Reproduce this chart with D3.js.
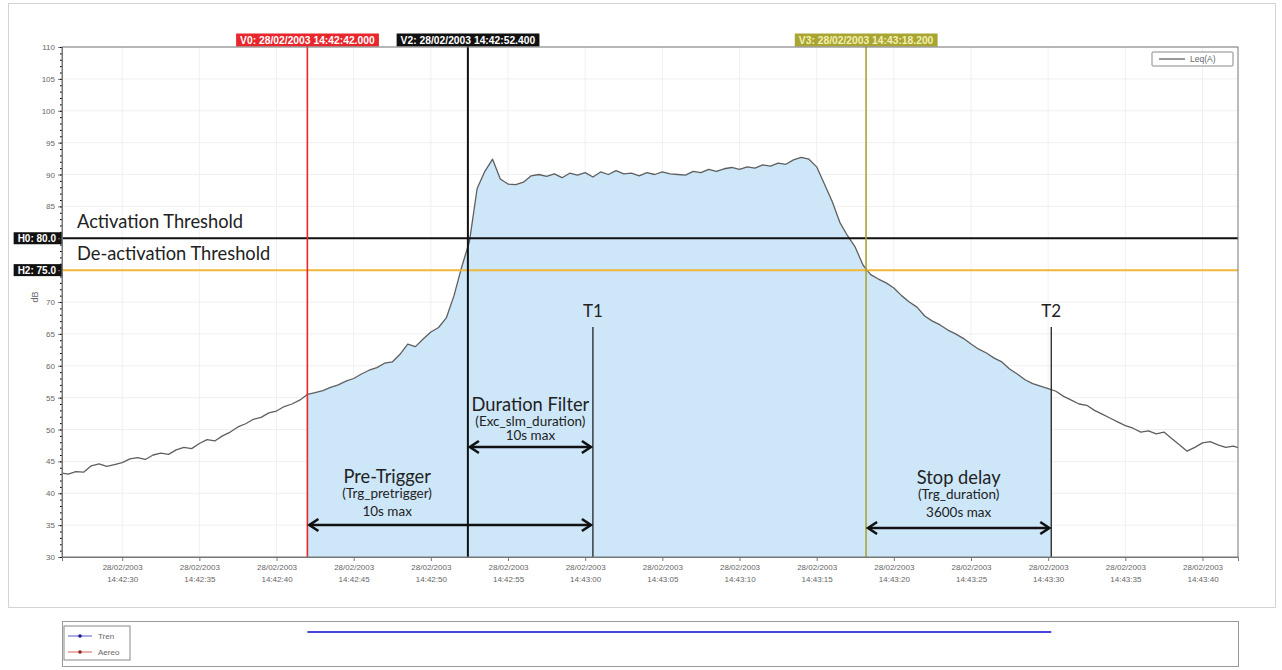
<!DOCTYPE html>
<html>
<head>
<meta charset="utf-8">
<script src="https://cdn.jsdelivr.net/npm/d3@7"></script>
<style>
  body { margin: 0; background: #fff; }
  text { font-family: "Liberation Sans", Arial, sans-serif; }
  .note { font-family: Lato, "Open Sans", sans-serif; fill: #222; }
</style>
</head>
<body>
<div id="main"></div>
<script>
// Leq(A) samples, every 0.5 s from leqStart
const leqStart = "28/02/2003 14:42:26.000";
const leqStepMs = 500;
const leqValues = [
  43.2, 43.0, 43.4, 43.3, 44.3, 44.6, 44.2, 44.5,
  44.8, 45.4, 45.6, 45.3, 46.0, 46.3, 46.1, 46.8,
  47.2, 47.0, 47.8, 48.4, 48.2, 49.0, 49.6, 50.4,
  50.9, 51.6, 51.9, 52.6, 52.9, 53.6, 54.0, 54.6,
  55.5, 55.8, 56.1, 56.6, 57.0, 57.6, 58.0, 58.7,
  59.3, 59.7, 60.4, 60.6, 61.8, 63.4, 63.0, 64.2,
  65.3, 66.0, 67.5, 71.0, 75.5, 79.5, 87.8, 90.5,
  92.4, 89.3, 88.5, 88.4, 88.8, 89.8, 90.0, 89.7,
  90.1, 89.5, 90.2, 89.9, 90.3, 89.6, 90.4, 90.0,
  90.6, 90.1, 90.2, 89.8, 90.3, 90.0, 90.4, 90.1,
  90.0, 89.9, 90.5, 90.3, 90.8, 90.5, 90.9, 91.1,
  90.8, 91.2, 91.0, 91.5, 91.3, 91.8, 91.6, 92.3,
  92.7, 92.4, 91.2, 88.5, 85.8, 82.5, 80.4, 78.6,
  75.8, 74.3, 73.6, 73.0, 72.2, 71.0, 70.0, 69.2,
  67.8, 67.0, 66.4, 65.6, 65.0, 64.3, 63.4, 62.6,
  62.0, 61.2, 60.6, 59.5, 58.7, 57.8, 57.2, 56.8,
  56.4, 56.0, 55.2, 54.6, 54.0, 53.8, 53.0, 52.4,
  51.8, 51.2, 50.6, 50.2, 49.6, 49.8, 49.3, 49.6,
  48.6, 47.6, 46.6, 47.2, 47.9, 48.1, 47.6, 47.2,
  47.4, 47.0
];

const xDomain = ["28/02/2003 14:42:26.100", "28/02/2003 14:43:42.300"];
const xTickTimes = [
  "28/02/2003 14:42:30.000", "28/02/2003 14:42:35.000", "28/02/2003 14:42:40.000",
  "28/02/2003 14:42:45.000", "28/02/2003 14:42:50.000", "28/02/2003 14:42:55.000",
  "28/02/2003 14:43:00.000", "28/02/2003 14:43:05.000", "28/02/2003 14:43:10.000",
  "28/02/2003 14:43:15.000", "28/02/2003 14:43:20.000", "28/02/2003 14:43:25.000",
  "28/02/2003 14:43:30.000", "28/02/2003 14:43:35.000", "28/02/2003 14:43:40.000"
];
const yTicks = [30, 35, 40, 45, 50, 55, 60, 65, 70, 75, 80, 85, 90, 95, 100, 105, 110];

// cursors
const markerNames = ["V0", "V2", "V3"];
const markerTimes = ["28/02/2003 14:42:42.000", "28/02/2003 14:42:52.400", "28/02/2003 14:43:18.200"];

const thresholdNames = ["H0", "H2"];
const thresholdValues = [80, 75];
const thresholdTexts = ["Activation Threshold", "De-activation Threshold"];

const triggerNames = ["T1", "T2"];
const triggerTimes = ["28/02/2003 14:43:00.500", "28/02/2003 14:43:30.200"];

// annotated spans
const spanTitles = ["Duration Filter", "Pre-Trigger", "Stop delay"];
const spanParams = ["(Exc_slm_duration)", "(Trg_pretrigger)", "(Trg_duration)"];
const spanLimits = ["10s max", "10s max", "3600s max"];
const spanFrom = ["V2", "V0", "V3"];
const spanTo = ["T1", "T1", "T2"];

const bottomSeries = ["Tren", "Aereo"];

// layout / style
const ctx = {
    margin: {top: 47, right: 44, bottom: 113, left: 62},
    width: 1282,
    height: 670
};
ctx.w = ctx.width - ctx.margin.left - ctx.margin.right;
ctx.h = ctx.height - ctx.margin.top - ctx.margin.bottom;
const markerColors = ["#e8262b", "#111111", "#a9a533"];
const markerTextColors = ["#fff", "#fff", "#f2f0b0"];
const thresholdColors = ["#111111", "#f2b73a"];
const spanArrowY = [447, 525, 528];
const spanTextShift = [0, -63, 0];
const spanTitleDy = [-36, -42, -44];

const parseT = d3.timeParse("%d/%m/%Y %H:%M:%S.%L");
const t0 = parseT(leqStart);
const leq = leqValues.map((v, i) => ({t: new Date(t0.getTime() + i * leqStepMs), v: v}));
const markerT = markerTimes.map(parseT);
const triggerT = triggerTimes.map(parseT);
const timeOf = name => {
    const i = markerNames.indexOf(name);
    return i >= 0 ? markerT[i] : triggerT[triggerNames.indexOf(name)];
};

const svg = d3.select("#main").append("svg")
    .attr("width", ctx.width)
    .attr("height", ctx.height);

// outer frames
svg.append("rect").attr("x", 8.5).attr("y", 3.5).attr("width", 1267).attr("height", 604)
    .attr("fill", "none").attr("stroke", "#d4d4d4");
svg.append("rect").attr("x", 62.5).attr("y", 621.5).attr("width", 1176).attr("height", 45)
    .attr("fill", "none").attr("stroke", "#9a9a9a");

const g = svg.append("g")
    .attr("transform", `translate(${ctx.margin.left},${ctx.margin.top})`);

const x = d3.scaleTime().domain(xDomain.map(parseT)).range([0, ctx.w]);
const y = d3.scaleLinear().domain([30, 110]).range([ctx.h, 0]);

g.append("clipPath").attr("id", "plotclip")
  .append("rect").attr("width", ctx.w).attr("height", ctx.h);
g.append("clipPath").attr("id", "fillclip")
  .append("rect")
    .attr("x", x(markerT[0]))
    .attr("width", x(triggerT[1]) - x(markerT[0]))
    .attr("height", ctx.h);

// grid
g.append("g").selectAll("line").data(xTickTimes.map(parseT)).enter().append("line")
    .attr("x1", d => x(d)).attr("x2", d => x(d))
    .attr("y1", 0).attr("y2", ctx.h)
    .attr("stroke", "#f0f0f0");
g.append("g").selectAll("line").data(yTicks).enter().append("line")
    .attr("x1", 0).attr("x2", ctx.w)
    .attr("y1", d => y(d)).attr("y2", d => y(d))
    .attr("stroke", "#f0f0f0");

// shaded event area
const area = d3.area()
    .x(d => x(d.t)).y0(ctx.h).y1(d => y(d.v));
g.append("path")
    .datum(leq)
    .attr("clip-path", "url(#fillclip)")
    .attr("fill", "#cde7f9")
    .attr("d", area);

// curve
const line = d3.line().x(d => x(d.t)).y(d => y(d.v));
g.append("path")
    .datum(leq)
    .attr("clip-path", "url(#plotclip)")
    .attr("fill", "none")
    .attr("stroke", "#5f5f5f")
    .attr("stroke-width", 1.3)
    .attr("stroke-linejoin", "round")
    .attr("d", line);

// threshold lines
thresholdValues.forEach((v, i) => {
    g.append("line")
        .attr("x1", 0).attr("x2", ctx.w)
        .attr("y1", y(v)).attr("y2", y(v))
        .attr("stroke", thresholdColors[i])
        .attr("stroke-width", 2);
    g.append("text")
        .attr("class", "note")
        .attr("x", 15)
        .attr("y", y(v) - 10)
        .style("font-size", "18.3px")
        .text(thresholdTexts[i]);
    const lab = g.append("g").attr("transform", `translate(-6,${y(v)})`);
    const t = lab.append("text")
        .attr("text-anchor", "end")
        .attr("dy", "0.35em")
        .style("font-size", "10px")
        .style("font-weight", "bold")
        .style("fill", "#fff")
        .text(`${thresholdNames[i]}: ${v.toFixed(1)}`);
    const b = t.node().getBBox();
    lab.insert("rect", "text")
        .attr("x", b.x - 4).attr("y", -6)
        .attr("width", b.width + 10).attr("height", 12)
        .attr("fill", "#111");
});

// vertical cursors
markerNames.forEach((n, i) => {
    const xp = x(markerT[i]);
    g.append("line")
        .attr("x1", xp).attr("x2", xp)
        .attr("y1", -1).attr("y2", ctx.h)
        .attr("stroke", markerColors[i])
        .attr("stroke-width", i == 1 ? 2 : 1.6);
    const lab = g.append("g").attr("transform", `translate(${xp},-7)`);
    const t = lab.append("text")
        .attr("text-anchor", "middle")
        .attr("dy", "0.35em")
        .style("font-size", "10.3px")
        .style("font-weight", "bold")
        .style("fill", markerTextColors[i])
        .text(`${n}: ${markerTimes[i]}`);
    const b = t.node().getBBox();
    lab.insert("rect", "text")
        .attr("x", b.x - 4).attr("y", -6.5)
        .attr("width", b.width + 8).attr("height", 13)
        .attr("fill", markerColors[i]);
});

// trigger lines T1 / T2
triggerNames.forEach((n, i) => {
    const xp = x(triggerT[i]);
    g.append("line")
        .attr("x1", xp).attr("x2", xp)
        .attr("y1", 280).attr("y2", ctx.h)
        .attr("stroke", "#222").attr("stroke-width", 1.3);
    g.append("text")
        .attr("class", "note")
        .attr("x", xp).attr("y", 270)
        .attr("text-anchor", "middle")
        .style("font-size", "17px")
        .text(n);
});

// arrows
const defs = svg.append("defs");
defs.append("marker")
    .attr("id", "chev")
    .attr("viewBox", "-12 -8 16 16")
    .attr("markerUnits", "userSpaceOnUse")
    .attr("markerWidth", 16).attr("markerHeight", 16)
    .attr("refX", 0).attr("refY", 0)
    .attr("orient", "auto-start-reverse")
  .append("path")
    .attr("d", "M-9,-6 L0,0 L-9,6")
    .attr("fill", "none")
    .attr("stroke", "#111")
    .attr("stroke-width", 2.6)
    .attr("stroke-linejoin", "miter");

spanTitles.forEach((s, i) => {
    const xa = x(timeOf(spanFrom[i])), xb = x(timeOf(spanTo[i]));
    const ay = spanArrowY[i] - ctx.margin.top;
    g.append("line")
        .attr("x1", xa + 2).attr("x2", xb - 2)
        .attr("y1", ay).attr("y2", ay)
        .attr("stroke", "#111").attr("stroke-width", 2.6)
        .attr("marker-start", "url(#chev)")
        .attr("marker-end", "url(#chev)");
    const cx = (xa + xb) / 2 + spanTextShift[i];
    g.append("text").attr("class", "note")
        .attr("x", cx).attr("y", ay + spanTitleDy[i])
        .attr("text-anchor", "middle")
        .style("font-size", "18.3px")
        .text(s);
    g.append("text").attr("class", "note")
        .attr("x", cx).attr("y", ay + spanTitleDy[i] + 15)
        .attr("text-anchor", "middle")
        .style("font-size", "13.5px")
        .text(spanParams[i]);
    g.append("text").attr("class", "note")
        .attr("x", cx).attr("y", ay + spanTitleDy[i] + (i == 0 ? 29 : 33))
        .attr("text-anchor", "middle")
        .style("font-size", "13.5px")
        .text(spanLimits[i]);
});

// axes (80 and 75 labels sit under the H0 / H2 tags)
const yAxis = g.append("g")
    .call(d3.axisLeft(y).tickValues(yTicks).tickSize(4).tickPadding(3)
        .tickFormat(d => thresholdValues.includes(d) ? "" : d));
g.append("g")
    .call(d3.axisLeft(y).tickValues(d3.range(30, 111, 1)).tickSize(2).tickFormat(""))
    .call(a => a.select(".domain").remove());
yAxis.selectAll("text").style("font-size", "8px").style("fill", "#666");

const xAxis = g.append("g")
    .attr("transform", `translate(0,${ctx.h})`)
    .call(d3.axisBottom(x).tickValues(xTickTimes.map(parseT)).tickSize(4).tickFormat(""));
xAxis.selectAll(".tick").append("text")
    .attr("y", 13)
    .attr("fill", "#666")
    .attr("text-anchor", "middle")
    .style("font-size", "8px")
    .call(t => t.append("tspan").attr("x", 0).text(d => d3.timeFormat("%d/%m/%Y")(d)))
    .call(t => t.append("tspan").attr("x", 0).attr("dy", "1.5em").text(d => d3.timeFormat("%H:%M:%S")(d)));
[yAxis, xAxis].forEach(a => {
    a.selectAll(".domain, line").attr("stroke", "#777");
});

// plot frame
g.append("rect")
    .attr("width", ctx.w).attr("height", ctx.h)
    .attr("fill", "none").attr("stroke", "#777");

g.append("text")
    .attr("transform", `translate(-24,${ctx.h / 2 - 5}) rotate(-90)`)
    .attr("text-anchor", "middle")
    .style("font-size", "9px")
    .style("fill", "#666")
    .text("dB");

// legend top right
const leg = g.append("g").attr("transform", `translate(${ctx.w - 86},5)`);
leg.append("rect").attr("width", 81).attr("height", 14)
    .attr("fill", "#fff").attr("stroke", "#888").attr("rx", 1);
leg.append("line").attr("x1", 7).attr("x2", 33).attr("y1", 7).attr("y2", 7)
    .attr("stroke", "#555").attr("stroke-width", 1.2);
leg.append("text").attr("x", 38).attr("y", 10)
    .style("font-size", "8.5px").style("fill", "#666").text("Leq(A)");

// bottom panel: event bar and its legend
const bottomColors = ["#2f2fd0", "#d03a2f"];
svg.append("line")
    .attr("x1", ctx.margin.left + x(markerT[0]))
    .attr("x2", ctx.margin.left + x(triggerT[1]))
    .attr("y1", 632).attr("y2", 632)
    .attr("stroke", "#4646d8").attr("stroke-width", 2);
const bl = svg.append("g").attr("transform", "translate(64,626)");
bl.append("rect").attr("width", 66).attr("height", 34)
    .attr("fill", "#fff").attr("stroke", "#888");
bottomSeries.forEach((s, i) => {
    const yy = 10 + i * 16;
    bl.append("line").attr("x1", 4).attr("x2", 28).attr("y1", yy).attr("y2", yy)
        .attr("stroke", bottomColors[i]).attr("stroke-width", 0.8);
    bl.append("circle").attr("cx", 16).attr("cy", yy).attr("r", 1.8)
        .attr("fill", i == 0 ? "#1a1a80" : "#8a2a20");
    bl.append("text").attr("x", 34).attr("y", yy + 3)
        .style("font-size", "8px").style("fill", "#666").text(s);
});
</script>
</body>
</html>
